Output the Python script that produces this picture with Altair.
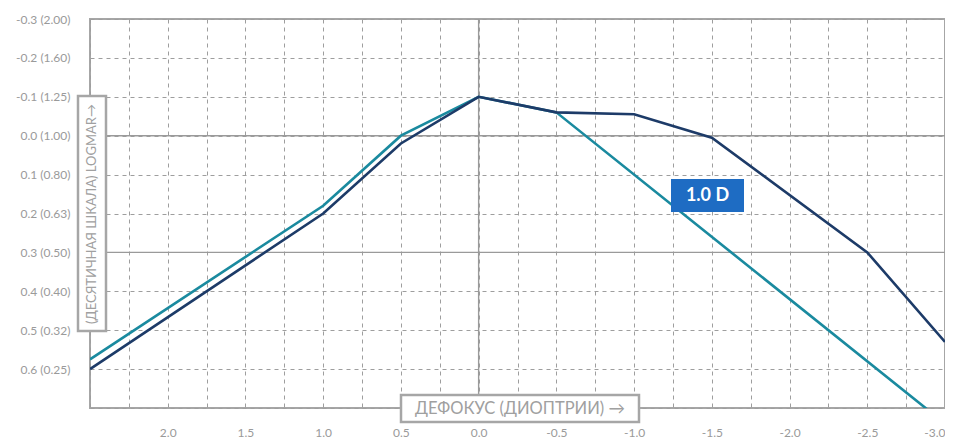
import altair as alt
import pandas as pd

# ---- data ----
DEFOCUS_NAVY = [2.5, 1.0, 0.5, 0.0, -0.5, -1.0, -1.5, -2.5, -3.0]
LOGMAR_NAVY = [0.60, 0.20, 0.02, -0.10, -0.06, -0.055, 0.005, 0.30, 0.53]
DEFOCUS_TEAL = [2.5, 1.0, 0.5, 0.0, -0.5, -3.0]
LOGMAR_TEAL = [0.575, 0.18, 0.0, -0.10, -0.06, 0.74]

Y_GRID = [-0.3, -0.2, -0.1, 0.0, 0.1, 0.2, 0.3, 0.4, 0.5, 0.6, 0.7]
Y_TICK_LABELS = ["-0.3 (2.00)", "-0.2 (1.60)", "-0.1 (1.25)", "0.0 (1.00)", "0.1 (0.80)",
                 "0.2 (0.63)", "0.3 (0.50)", "0.4 (0.40)", "0.5 (0.32)", "0.6 (0.25)", ""]
X_GRID = [2.5, 2.25, 2.0, 1.75, 1.5, 1.25, 1.0, 0.75, 0.5, 0.25, 0.0, -0.25, -0.5, -0.75,
          -1.0, -1.25, -1.5, -1.75, -2.0, -2.25, -2.5, -2.75, -3.0]
X_TICK_LABELS = ["", "", "2.0", "", "1.5", "", "1.0", "", "0.5", "", "0.0", "", "-0.5", "",
                 "-1.0", "", "-1.5", "", "-2.0", "", "-2.5", "", "-3.0"]
SOLID_Y = [0.0, 0.3]
SOLID_X = [0.0]

Y_TITLE = "(ДЕСЯТИЧНАЯ ШКАЛА) LOGMAR→"
X_TITLE = "ДЕФОКУС (ДИОПТРИИ) →"
BADGE = "1.0 D"

NAVY = "#1d3b68"
TEAL = "#1a8a9f"
GRAY = "#a6a6a6"
FONT = "Lato"

W, H = 855, 389

rows = []
for i, (x, y) in enumerate(zip(DEFOCUS_TEAL, LOGMAR_TEAL)):
    rows.append({"defocus": x, "logmar": y, "series": "teal", "o": i})
for i, (x, y) in enumerate(zip(DEFOCUS_NAVY, LOGMAR_NAVY)):
    rows.append({"defocus": x, "logmar": y, "series": "navy", "o": i})
df = pd.DataFrame(rows)

xscale = alt.Scale(domain=[2.5, -3.0], nice=False, zero=False)
yscale = alt.Scale(domain=[0.7, -0.3], nice=False, zero=False)

x_label_expr = "[" + ",".join("'" + s + "'" for s in X_TICK_LABELS) + "][round((2.5 - datum.value) * 4)]"
y_label_expr = "[" + ",".join("'" + s + "'" for s in Y_TICK_LABELS) + "][round((datum.value + 0.3) * 10)]"

X_AXIS = alt.Axis(values=X_GRID, labelExpr=x_label_expr, title=None, labelPadding=19,
                  labelFlush=True)
Y_AXIS = alt.Axis(values=Y_GRID, labelExpr=y_label_expr, title=None, labelPadding=20,
                  labelFlush=False)

hrules = alt.Chart(pd.DataFrame({"y": SOLID_Y})).mark_rule(color="#9a9a9a", strokeWidth=1.4).encode(
    y=alt.Y("y:Q", scale=yscale, axis=Y_AXIS))
vrules = alt.Chart(pd.DataFrame({"x": SOLID_X})).mark_rule(color="#9a9a9a", strokeWidth=1.4).encode(
    x=alt.X("x:Q", scale=xscale, axis=X_AXIS))

lines = alt.Chart(df).mark_line(strokeWidth=2.6, clip=True).encode(
    x=alt.X("defocus:Q", scale=xscale, axis=X_AXIS),
    y=alt.Y("logmar:Q", scale=yscale, axis=Y_AXIS),
    color=alt.Color("series:N", scale=alt.Scale(domain=["teal", "navy"], range=[TEAL, NAVY]),
                    legend=None),
    detail="series:N",
    order="o:Q",
)

one = pd.DataFrame({"a": [0]})

ybox = alt.Chart(one).mark_rect(fill="white", stroke=GRAY, strokeWidth=2.5).encode(
    x=alt.value(-12), x2=alt.value(16), y=alt.value(77), y2=alt.value(312))
ytext = alt.Chart(one).mark_text(angle=270, font=FONT, fontSize=13, color="#a0a0a0",
                                 align="center", baseline="middle").encode(
    x=alt.value(2), y=alt.value(195), text=alt.value(Y_TITLE))

xbox = alt.Chart(one).mark_rect(fill="white", stroke=GRAY, strokeWidth=2.5).encode(
    x=alt.value(311), x2=alt.value(549), y=alt.value(376), y2=alt.value(403))
xtext = alt.Chart(one).mark_text(font=FONT, fontSize=16.5, color="#a0a0a0",
                                 align="center", baseline="middle").encode(
    x=alt.value(430), y=alt.value(390), text=alt.value(X_TITLE))

badge = alt.Chart(one).mark_rect(fill="#1e6cc3").encode(
    x=alt.value(581), x2=alt.value(654), y=alt.value(160), y2=alt.value(193))
badge_text = alt.Chart(one).mark_text(font=FONT, fontSize=18, fontWeight="bold", color="white",
                                      align="center", baseline="middle").encode(
    x=alt.value(617.5), y=alt.value(177), text=alt.value(BADGE))

chart = alt.layer(hrules, vrules, lines, ybox, ytext, xbox, xtext, badge, badge_text).properties(
    width=W, height=H,
    background="white",
    autosize=alt.AutoSizeParams(type="none"),
    padding={"left": 82, "top": 11, "right": 0, "bottom": 32},
).configure_view(stroke=GRAY, strokeWidth=2).configure_axis(
    grid=True, gridDash=[4, 4], gridColor="#9e9e9e", gridWidth=1, domain=False,
    ticks=False, labelFont=FONT, labelFontSize=12, labelColor="#9a9a9a",
    labelOverlap=False, labelBound=False,
)

chart.save("out.html", embed_options={"renderer": "svg", "actions": False})
